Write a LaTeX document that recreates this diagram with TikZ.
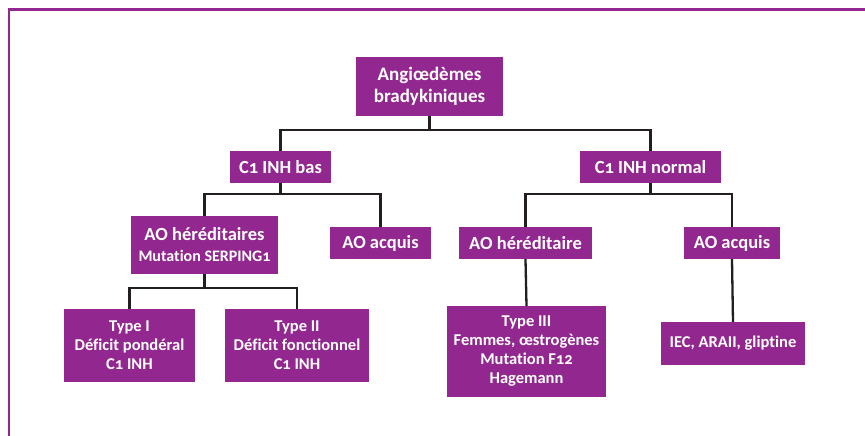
\documentclass[tikz,border=0pt]{standalone}
\usepackage{fontspec}
\setmainfont{Carlito}[Numbers=OldStyle, Ligatures=NoCommon]
\usepackage{xcolor}
\usepackage{tikz}
\usetikzlibrary{positioning, calc}
\definecolor{violet}{HTML}{92278F}
\definecolor{trait}{HTML}{231F20}
\tikzset{
  pbox/.style={rectangle, fill=violet, text=white, align=center,
               font=\bfseries\fontsize{18.5}{21}\selectfont, inner sep=2pt,
               minimum height=32pt},
  small/.style={font=\bfseries\fontsize{16.5}{19}\selectfont},
  lnk/.style={draw=trait, line width=2.3pt},
  cadre/.style={draw=violet, line width=2.6pt},
}

\begin{document}
\begin{tikzpicture}[x=1pt, y=-1pt]
  \useasboundingbox (0,0) rectangle (865,436);
  \draw[cadre] (865,9.7) -- (9,9.7) -- (9,436);

  \node[pbox, minimum width=147pt, minimum height=59pt,
        font=\bfseries\fontsize{19}{22}\selectfont] (root) at (429.5,86.5) {Angiœdèmes\\bradykiniques};
  \node[pbox, minimum width=101pt] (bas) at (280.5,167) {C1 INH bas};
  \node[pbox, minimum width=141pt] (normal) at (650.5,167) {C1 INH normal};
  \node[pbox, minimum width=147pt, minimum height=58pt] (aoh) at (204.5,245)
       {AO héréditaires\\{\fontsize{16}{18}\selectfont Mutation SERPING1}};
  \node[pbox, minimum width=101pt] (aoa) at (380.5,243) {AO acquis};
  \node[pbox, minimum width=133pt] (aohn) at (525.5,243) {AO héréditaire};
  \node[pbox, minimum width=96pt] (aoan) at (732,243) {AO acquis};
  \node[pbox, small, minimum width=131pt, minimum height=73pt] (t1) at (129.5,345.5) {Type I\\Déficit pondéral\\C1 INH};
  \node[pbox, small, minimum width=144pt, minimum height=73pt] (t2) at (297,345.5) {Type II\\Déficit fonctionnel\\C1 INH};
  \node[pbox, small, minimum width=159pt, minimum height=91pt] (t3) at (526.5,351.5) {Type III\\Femmes, œstrogènes\\Mutation F12\\Hagemann};
  \node[pbox, small, minimum width=144pt, minimum height=43pt] (iec) at (733,343.5) {IEC, ARAII, gliptine};

  \draw[lnk] (root.south) -- ++(0,14) -| (bas.north);
  \draw[lnk] (root.south) -- ++(0,14) -| (normal.north);
  \draw[lnk] (bas.south) -- ++(0,11) -| (aoh.north);
  \draw[lnk] (bas.south) -- ++(0,11) -| (aoa.north);
  \draw[lnk] (normal.south) -- ++(0,11) -| (aohn.north);
  \draw[lnk] (normal.south) -- ++(0,11) -| (aoan.north);
  \draw[lnk] (aoh.south) -- ++(0,14) -| (t1.north);
  \draw[lnk] (aoh.south) -- ++(0,14) -| (t2.north);
  \draw[lnk] (aohn.south) -- (t3.north);
  \draw[lnk] (aoan.south) -- (iec.north);
\end{tikzpicture}
\end{document}
